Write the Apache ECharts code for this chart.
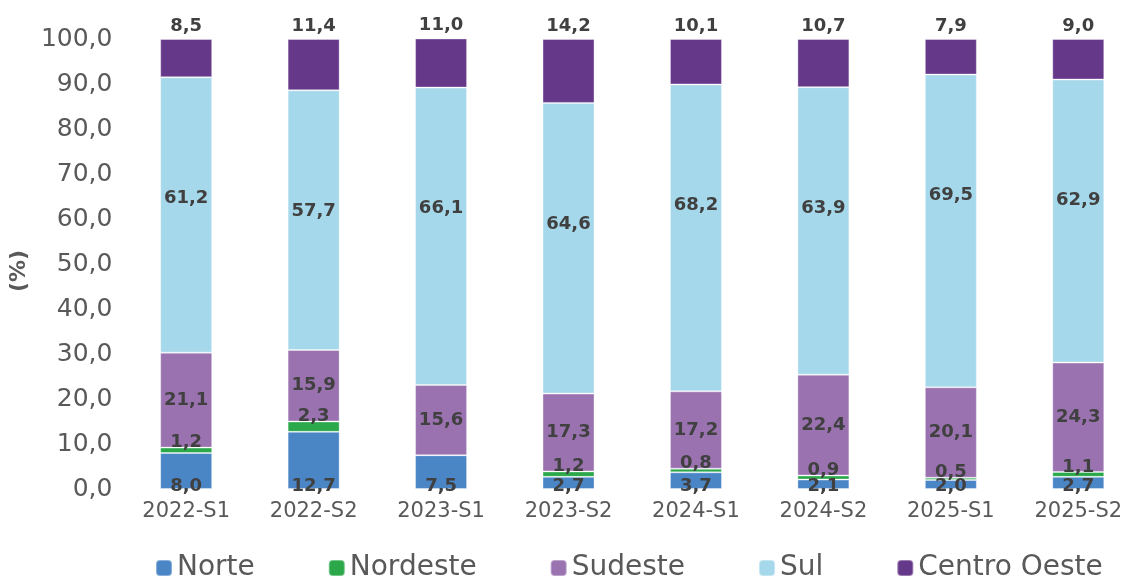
<!DOCTYPE html>
<html><head><meta charset="utf-8">
<script src="https://cdn.jsdelivr.net/npm/echarts@6/dist/echarts.min.js"></script>
<style>html,body{margin:0;padding:0;background:#fff}#c{width:1142px;height:580px}</style>
</head><body><div id="c"></div>
<script>
const categories = ['2022-S1','2022-S2','2023-S1','2023-S2','2024-S1','2024-S2','2025-S1','2025-S2'];
const norte    = [8.0, 12.7, 7.5, 2.7, 3.7, 2.1, 2.0, 2.7];
const nordeste = [1.2, 2.3, 0, 1.2, 0.8, 0.9, 0.5, 1.1];
const sudeste  = [21.1, 15.9, 15.6, 17.3, 17.2, 22.4, 20.1, 24.3];
const sul      = [61.2, 57.7, 66.1, 64.6, 68.2, 63.9, 69.5, 62.9];
const centroOeste = [8.5, 11.4, 11.0, 14.2, 10.1, 10.7, 7.9, 9.0];
const yTicks = [0,10,20,30,40,50,60,70,80,90,100];

const fmt = v => v.toFixed(1).replace('.', ',');
const FONT = '"DejaVu Sans", Verdana, sans-serif';
const lbl = (extra) => Object.assign({
  show: true, fontFamily: FONT, fontWeight: 'bold', fontSize: 18, color: '#404040',
  formatter: p => p.value ? fmt(p.value) : ''
}, extra);

function mk(name, data, color, label) {
  return {
    name, type: 'bar', stack: 'total', data, barWidth: 52,
    itemStyle: { color, borderColor: 'rgba(255,255,255,0.35)', borderWidth: 1 },
    label, emphasis: { disabled: true }
  };
}

const chart = echarts.init(document.getElementById('c'));
chart.setOption({
  animation: false,
  textStyle: { fontFamily: FONT },
  grid: { left: 118, right: -13, top: 39, bottom: 91 },
  legend: {
    left: 150, bottom: -7, itemWidth: 16, itemHeight: 16, itemGap: 73,
    textStyle: { fontFamily: FONT, fontSize: 28, color: '#595959' },
    data: ['Norte','Nordeste','Sudeste','Sul','Centro Oeste']
  },
  xAxis: {
    type: 'category', data: categories,
    axisLine: { show: false }, axisTick: { show: false },
    axisLabel: { fontFamily: FONT, fontSize: 21, color: '#595959', margin: 12 }
  },
  yAxis: {
    type: 'value', min: yTicks[0], max: yTicks[yTicks.length-1], interval: 10,
    name: '(%)', nameLocation: 'middle', nameGap: 84, nameRotate: 90,
    nameTextStyle: { fontFamily: FONT, fontSize: 22, fontWeight: 'bold', color: '#595959', padding: [0, 14, 0, 0] },
    splitLine: { show: false }, axisLine: { show: false }, axisTick: { show: false },
    axisLabel: { fontFamily: FONT, fontSize: 25, color: '#595959', margin: 10, formatter: v => fmt(v) }
  },
  series: [
    mk('Norte', norte, '#4A85C6', lbl({ position: 'insideBottom', distance: -6 })),
    mk('Nordeste', nordeste, '#2AA84A', lbl({ position: 'top', distance: -4 })),
    mk('Sudeste', sudeste, '#9A72AF', lbl({ position: 'inside' })),
    mk('Sul', sul, '#A5D8EA', lbl({ position: 'insideTop', distance: 112 })),
    mk('Centro Oeste', centroOeste, '#66388A', lbl({ position: 'top', distance: 4 }))
  ]
});
</script></body></html>
